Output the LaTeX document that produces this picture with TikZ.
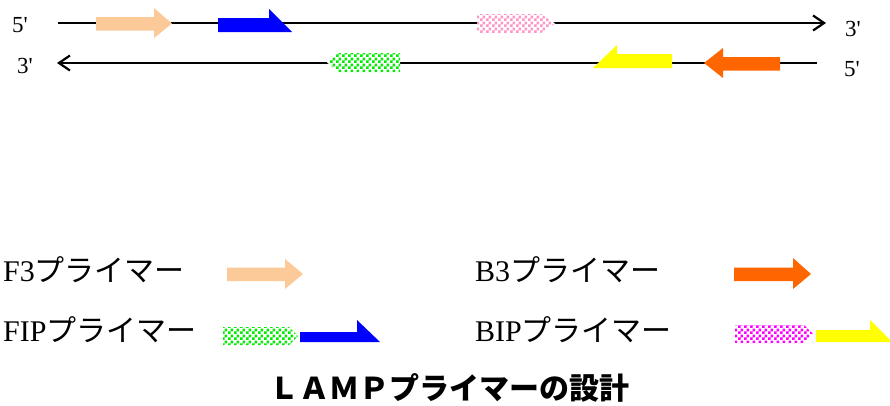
\documentclass[tikz,border=0pt]{standalone}
\usepackage{fontspec}
\setmainfont{Liberation Serif}
\newfontfamily\jp{Noto Sans CJK JP}
\usetikzlibrary{arrows.meta,patterns}
\pgfdeclarepatternformonly{finecheck}{\pgfpointorigin}{\pgfpoint{6pt}{6pt}}{\pgfpoint{6pt}{6pt}}{%
  \pgfpathrectangle{\pgfpointorigin}{\pgfpoint{3pt}{3pt}}%
  \pgfpathrectangle{\pgfpoint{3pt}{3pt}}{\pgfpoint{3pt}{3pt}}%
  \pgfusepath{fill}}
\definecolor{peach}{RGB}{252,202,152}
\definecolor{primeblue}{RGB}{0,0,255}
\definecolor{primeorange}{RGB}{255,102,0}
\definecolor{primeyellow}{RGB}{255,255,0}
\definecolor{checkgreen}{RGB}{0,235,0}
\definecolor{checkpink}{RGB}{255,150,200}
\definecolor{checkmagenta}{RGB}{255,0,255}
\begin{document}
\begin{tikzpicture}[x=1pt,y=-1pt,
  strand/.style={line width=2.2pt,black},
  endlabel/.style={inner sep=0pt,font=\fontsize{23}{25}\selectfont},
  legendtext/.style={inner sep=0pt,anchor=base west,font=\fontsize{30}{32}\selectfont},
  checkprimer/.style={draw=none,preaction={fill=white},pattern=finecheck},
  titletext/.style={inner sep=0pt,font=\jp\bfseries\fontsize{30}{32}\selectfont}
]
\useasboundingbox (0,0) rectangle (890,405);
% strands
\coordinate (t1) at (58,23);
\coordinate (t2) at (826,23);
\coordinate (b1) at (817,63);
\coordinate (b2) at (57,63);
\draw[strand,-{Straight Barb[length=11pt,width=15pt,line width=2.2pt]}] (t1) -- (t2);
\draw[strand,-{Straight Barb[length=11pt,width=15pt,line width=2.2pt]}] (b1) -- (b2);
\node[endlabel] (l5top) at (20,25.5) {5\textquotesingle};
\node[endlabel] (l3bot) at (25,66) {3\textquotesingle};
\node[endlabel] (r3top) at (853,29) {3\textquotesingle};
\node[endlabel] (r5bot) at (852,69) {5\textquotesingle};
% top strand primers
\fill[peach] (96,17) -- (154,17) -- (154,8) -- (172,23.5) -- (154,38) -- (154,30.5) -- (96,30.5) -- cycle;
\fill[primeblue] (218,18) -- (269,18) -- (269,9) -- (292,32) -- (218,32) -- cycle;
\path[checkprimer,pattern color=checkpink] (477,14) -- (541,14) -- (555,23.5) -- (541,33) -- (477,33) -- cycle;
% bottom strand primers
\path[checkprimer,pattern color=checkgreen] (400,53) -- (338,53) -- (327,62.5) -- (338,72) -- (400,72) -- cycle;
\fill[primeyellow] (672,54) -- (617,54) -- (617,45) -- (593,68) -- (672,68) -- cycle;
\fill[primeorange] (780,57) -- (723,57) -- (723,48) -- (704,63) -- (723,78) -- (723,70.5) -- (780,70.5) -- cycle;
% legend
\node[legendtext] (f3) at (3,281) {F3{\jp プライマー}};
\node[legendtext] (fip) at (3,341) {FIP{\jp プライマー}};
\node[legendtext] (b3) at (475,281) {B3{\jp プライマー}};
\node[legendtext] (bip) at (475,341) {BIP{\jp プライマー}};
\fill[peach] (227,267.5) -- (285,267.5) -- (285,259) -- (303,274) -- (285,289) -- (285,281) -- (227,281) -- cycle;
\path[checkprimer,pattern color=checkgreen] (223,327) -- (289,327) -- (298,336) -- (289,345) -- (223,345) -- cycle;
\fill[primeblue] (300,332) -- (357,332) -- (357,320) -- (380,342) -- (300,342) -- cycle;
\fill[primeorange] (734,267.5) -- (793,267.5) -- (793,258) -- (811,274) -- (793,289) -- (793,281) -- (734,281) -- cycle;
\path[checkprimer,pattern color=checkmagenta] (735,325) -- (804,325) -- (813,334) -- (804,343) -- (735,343) -- cycle;
\fill[primeyellow] (816,330) -- (870,330) -- (870,320) -- (892,342) -- (816,342) -- cycle;
% title
\node[titletext] (title) at (449,388) {ＬＡＭＰプライマーの設計};
\end{tikzpicture}
\end{document}
